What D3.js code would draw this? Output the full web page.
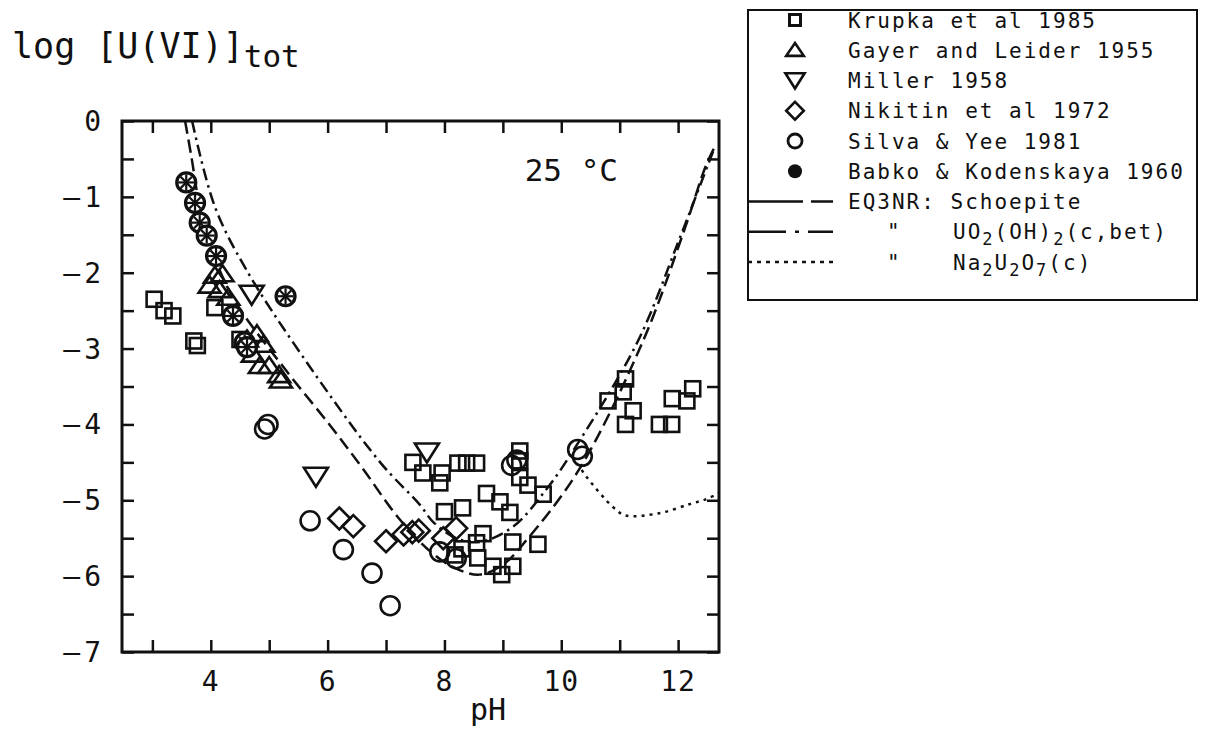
<!DOCTYPE html>
<html>
<head>
<meta charset="utf-8">
<script src="https://cdn.jsdelivr.net/npm/d3@7/dist/d3.min.js"></script>
<style>
  body { margin: 0; background: #fff; }
  svg { display: block; }
  text { font-family: "DejaVu Sans Mono", "Liberation Mono", monospace; fill: #111; }
</style>
</head>
<body>
<div id="chart"></div>
<script>
// measured data, [pH, log U(VI) tot]
var krupka = [
  [3.03,-2.35],[3.2,-2.5],[3.35,-2.57],[3.71,-2.9],[3.77,-2.96],[4.07,-2.46],[4.5,-2.88],
  [7.46,-4.5],[7.63,-4.64],[7.96,-4.64],[7.92,-4.77],[8.23,-4.51],[8.38,-4.51],[8.55,-4.51],
  [9.29,-4.35],[9.29,-4.48],[9.29,-4.7],[9.43,-4.8],[9.69,-4.92],[8.72,-4.91],[8.95,-5.02],
  [9.12,-5.16],[8.0,-5.15],[8.31,-5.1],[9.6,-5.58],[9.17,-5.55],[8.66,-5.44],[8.55,-5.56],
  [8.3,-5.64],[8.57,-5.76],[8.83,-5.87],[8.98,-5.98],[9.17,-5.87],[8.18,-5.72],
  [11.1,-3.4],[11.06,-3.57],[10.8,-3.69],[11.23,-3.82],[11.1,-4.0],[11.68,-4.0],[11.89,-4.0],
  [11.9,-3.66],[12.15,-3.69],[12.25,-3.53]
];
var gayer = [
  [4.07,-2.04],[4.2,-2.02],[3.98,-2.17],[4.15,-2.23],[4.3,-2.33],[4.62,-2.88],[4.79,-2.81],
  [4.9,-2.95],[4.72,-3.08],[4.84,-3.23],[5.0,-3.23],[5.17,-3.35],[5.2,-3.42]
];
var miller = [[4.7,-2.29],[5.8,-4.69],[7.7,-4.37]];
var nikitin = [
  [6.2,-5.24],[6.44,-5.34],[7.0,-5.54],[7.3,-5.45],[7.45,-5.42],[7.56,-5.4],[7.98,-5.5],[8.2,-5.37]
];
var silva = [
  [4.98,-4.0],[4.92,-4.06],[5.7,-5.27],[6.27,-5.65],[6.76,-5.96],[7.07,-6.39],[7.92,-5.68],
  [8.2,-5.77],[9.15,-4.54],[9.24,-4.47],[10.28,-4.33],[10.36,-4.42]
];
var babko = [
  [3.58,-0.81],[3.73,-1.08],[3.81,-1.34],[3.93,-1.51],[4.09,-1.78],[4.38,-2.57],[5.28,-2.31],
  [4.58,-2.92],[4.62,-2.98]
];

// EQ3NR model curves
var schoepite = [
  [3.56,0],[3.67,-0.48],[3.81,-1.13],[4.0,-1.65],[4.38,-2.33],[5.3,-3.3],[6.03,-4.0],
  [6.6,-4.58],[7.2,-5.22],[7.78,-5.69],[8.2,-5.9],[8.6,-5.98],[9.0,-5.85],[9.41,-5.52],
  [10.3,-4.6],[11.4,-2.9],[12.1,-1.45],[12.47,-0.6],[12.62,-0.35]
];
var uo2bet = [
  [3.68,0],[4.07,-1.13],[4.6,-1.95],[5.57,-3.1],[6.9,-4.5],[7.58,-5.06],[7.8,-5.28],
  [8.2,-5.5],[8.6,-5.55],[9.17,-5.35],[9.75,-4.85],[10.2,-4.35],[11.3,-2.92],[12.0,-1.6],
  [12.4,-0.8],[12.6,-0.4]
];
var na2u2o7 = [
  [10.35,-4.6],[10.44,-4.7],[10.9,-5.1],[11.1,-5.2],[11.68,-5.17],[12.2,-5.05],[12.5,-4.98],[12.7,-4.9]
];

var xTicks = [3,4,5,6,7,8,9,10,11,12];
var xLabels = [4,6,8,10,12];
var yTicks = [0,-0.5,-1,-1.5,-2,-2.5,-3,-3.5,-4,-4.5,-5,-5.5,-6,-6.5,-7];
var yLabels = [0,-1,-2,-3,-4,-5,-6,-7];

var legendItems = [
  {sym: "square", label: "Krupka et al 1985"},
  {sym: "up", label: "Gayer and Leider 1955"},
  {sym: "down", label: "Miller 1958"},
  {sym: "diamond", label: "Nikitin et al 1972"},
  {sym: "circle", label: "Silva & Yee 1981"},
  {sym: "babko", label: "Babko & Kodenskaya 1960"}
];

var W = 1208, H = 738;
var plotL = 122, plotR = 719, plotT = 121, plotB = 652;

var svg = d3.select("#chart").append("svg")
  .attr("width", W).attr("height", H);

var x = d3.scaleLinear().domain([2.48, 12.7]).range([plotL, plotR]);
var y = d3.scaleLinear().domain([0, -7]).range([plotT, plotB]);

var ink = "#111";

// frame
svg.append("rect")
  .attr("x", plotL).attr("y", plotT)
  .attr("width", plotR - plotL).attr("height", plotB - plotT)
  .attr("fill", "none").attr("stroke", ink).attr("stroke-width", 3);

// inward ticks on all four sides
svg.append("g").attr("transform", "translate(0," + plotB + ")")
  .call(d3.axisBottom(x).tickValues(xTicks).tickSize(-12).tickFormat(""))
  .call(function(g){ g.select(".domain").remove(); });
svg.append("g").attr("transform", "translate(0," + plotT + ")")
  .call(d3.axisTop(x).tickValues(xTicks).tickSize(-12).tickFormat(""))
  .call(function(g){ g.select(".domain").remove(); });
svg.append("g").attr("transform", "translate(" + plotL + ",0)")
  .call(d3.axisLeft(y).tickValues(yTicks).tickSize(-12).tickFormat(""))
  .call(function(g){ g.select(".domain").remove(); });
svg.append("g").attr("transform", "translate(" + plotR + ",0)")
  .call(d3.axisRight(y).tickValues(yTicks).tickSize(-12).tickFormat(""))
  .call(function(g){ g.select(".domain").remove(); });
svg.selectAll(".tick line").attr("stroke", ink).attr("stroke-width", 2.5);

// tick labels
svg.selectAll(".xlab").data(xLabels).enter().append("text")
  .attr("x", function(d){ return x(d); })
  .attr("y", 691)
  .attr("text-anchor", "middle")
  .style("font-size", "28px")
  .style("letter-spacing", "1px")
  .text(function(d){ return d; });

svg.selectAll(".ylab").data(yLabels).enter().append("text")
  .attr("x", 105)
  .attr("y", function(d){ return y(d) + 10; })
  .attr("text-anchor", "end")
  .style("font-size", "28px")
  .style("letter-spacing", "4px")
  .text(function(d){ return d == 0 ? "0" : "\u2013" + Math.abs(d); });

// axis titles
var title = svg.append("text").attr("x", 12).attr("y", 58).style("font-size", "35px");
title.append("tspan").text("log [U(VI)]");
title.append("tspan").attr("dy", 9).style("font-size", "31px").text("tot");

svg.append("text").attr("x", 488).attr("y", 720)
  .attr("text-anchor", "middle").style("font-size", "30px").text("pH");

svg.append("text").attr("x", 618).attr("y", 181)
  .attr("text-anchor", "end").style("font-size", "31px").text("25 °C");

// curves, clipped to the frame
svg.append("clipPath").attr("id", "clip").append("rect")
  .attr("x", plotL).attr("y", plotT).attr("width", plotR - plotL).attr("height", plotB - plotT);

var line = d3.line()
  .x(function(d){ return x(d[0]); })
  .y(function(d){ return y(d[1]); })
  .curve(d3.curveCatmullRom.alpha(0.5));

var curves = [
  {data: schoepite, dash: "13,6"},
  {data: uo2bet, dash: "12,5,2.5,5"},
  {data: na2u2o7, dash: "3,5"}
];
svg.append("g").attr("clip-path", "url(#clip)")
  .selectAll("path").data(curves).enter().append("path")
  .attr("d", function(d){ return line(d.data); })
  .attr("fill", "none").attr("stroke", ink).attr("stroke-width", 2.5)
  .attr("stroke-dasharray", function(d){ return d.dash; });

// marker drawing
function drawSymbol(g, sym, s) {
  var sw = 2.6;
  if (sym == "square") {
    g.append("rect").attr("x", -7.5*s).attr("y", -7.5*s).attr("width", 15*s).attr("height", 15*s)
      .attr("fill", "none").attr("stroke", ink).attr("stroke-width", sw);
  } else if (sym == "up") {
    g.append("path").attr("d", "M0," + (-9*s) + "L" + (11*s) + "," + (7*s) + "L" + (-11*s) + "," + (7*s) + "Z")
      .attr("fill", "none").attr("stroke", ink).attr("stroke-width", sw).attr("stroke-linejoin", "miter");
  } else if (sym == "down") {
    g.append("path").attr("d", "M0," + (10*s) + "L" + (12*s) + "," + (-9*s) + "L" + (-12*s) + "," + (-9*s) + "Z")
      .attr("fill", "none").attr("stroke", ink).attr("stroke-width", sw);
  } else if (sym == "diamond") {
    g.append("path").attr("d", "M0," + (-11*s) + "L" + (11*s) + ",0L0," + (11*s) + "L" + (-11*s) + ",0Z")
      .attr("fill", "none").attr("stroke", ink).attr("stroke-width", sw);
  } else if (sym == "circle") {
    g.append("circle").attr("r", 9.5*s)
      .attr("fill", "none").attr("stroke", ink).attr("stroke-width", sw);
  } else if (sym == "babko") {
    g.append("circle").attr("r", 9.5*s)
      .attr("fill", "#fff").attr("stroke", ink).attr("stroke-width", sw + 0.6);
    [0, 45, 90, 135].forEach(function(a){
      var r = 8 * s, rad = a * Math.PI / 180;
      g.append("line")
        .attr("x1", -r*Math.cos(rad)).attr("y1", -r*Math.sin(rad))
        .attr("x2", r*Math.cos(rad)).attr("y2", r*Math.sin(rad))
        .attr("stroke", ink).attr("stroke-width", 2.2*s);
    });
  }
}

var groups = [
  {data: krupka, sym: "square"},
  {data: gayer, sym: "up"},
  {data: miller, sym: "down"},
  {data: nikitin, sym: "diamond"},
  {data: silva, sym: "circle"},
  {data: babko, sym: "babko"}
];
groups.forEach(function(grp){
  svg.append("g").selectAll("g").data(grp.data).enter().append("g")
    .attr("transform", function(d){ return "translate(" + x(d[0]) + "," + y(d[1]) + ")"; })
    .each(function(){ drawSymbol(d3.select(this), grp.sym, 1); });
});

// legend
var lg = svg.append("g");
var lx = 748, ly = 10, rowH = 30.25, firstRow = 20;
lg.append("rect").attr("x", lx).attr("y", ly).attr("width", 1197 - lx).attr("height", 290)
  .attr("fill", "#fff").attr("stroke", ink).attr("stroke-width", 2);

legendItems.forEach(function(it, i){
  var cy = firstRow + i * rowH;
  var g = lg.append("g").attr("transform", "translate(795," + cy + ")");
  if (it.sym == "square") {
    g.append("rect").attr("x", -5.5).attr("y", -5.5).attr("width", 11).attr("height", 11)
      .attr("fill", "none").attr("stroke", ink).attr("stroke-width", 3);
  } else if (it.sym == "babko") {
    g.append("circle").attr("r", 7).attr("fill", ink);
  } else if (it.sym == "circle") {
    g.append("circle").attr("r", 7).attr("fill", "none").attr("stroke", ink).attr("stroke-width", 2.8);
  } else {
    drawSymbol(g, it.sym, 0.8);
  }
  lg.append("text").attr("x", 848).attr("y", cy + 7.5)
    .style("font-size", "21px").style("letter-spacing", "2px").text(it.label);
});

var lineRows = [
  {dash: "55,8,30", a: "EQ3NR: Schoepite", b: null},
  {dash: "38,9,4,9,40", a: "\"", b: "UO2(OH)2(c,bet)"},
  {dash: "4,5", a: "\"", b: "Na2U2O7(c)"}
];
lineRows.forEach(function(r, i){
  var cy = firstRow + (6 + i) * rowH;
  lg.append("line").attr("x1", lx).attr("x2", 833).attr("y1", cy).attr("y2", cy)
    .attr("stroke", ink).attr("stroke-width", 2.5).attr("stroke-dasharray", r.dash);
  if (r.b == null) {
    lg.append("text").attr("x", 848).attr("y", cy + 7.5)
      .style("font-size", "21px").style("letter-spacing", "2px").text(r.a);
  } else {
    lg.append("text").attr("x", 887).attr("y", cy + 7.5)
      .style("font-size", "21px").text(r.a);
    // chemical formula with subscript digits
    var t = lg.append("text").attr("x", 953).attr("y", cy + 7.5)
      .style("font-size", "21px").style("letter-spacing", "2px");
    var parts = r.b.match(/[0-9]|[^0-9]+/g);
    var sub = false;
    parts.forEach(function(p){
      var isNum = /^[0-9]$/.test(p);
      var ts = t.append("tspan").text(p);
      if (isNum && !sub) { ts.attr("dy", 6).style("font-size", "17px"); sub = true; }
      else if (!isNum && sub) { ts.attr("dy", -6); sub = false; }
      else if (isNum && sub) { ts.style("font-size", "17px"); }
    });
  }
});
</script>
</body>
</html>
